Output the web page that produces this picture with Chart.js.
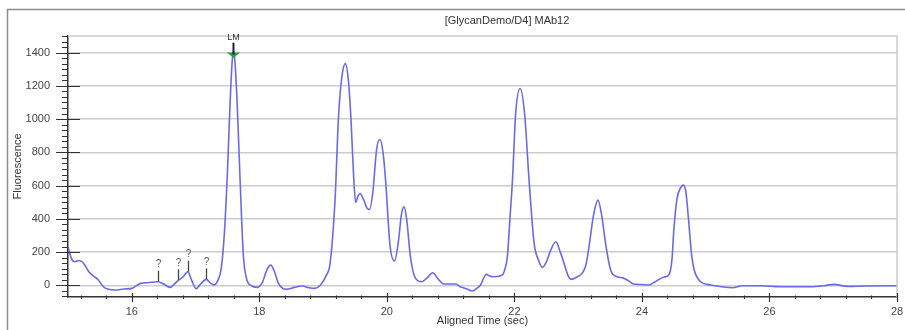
<!DOCTYPE html>
<html>
<head>
<meta charset="utf-8">
<script src="https://cdn.jsdelivr.net/npm/chart.js@4/dist/chart.umd.min.js"></script>
<style>
html,body{margin:0;padding:0;background:#fff;}
#wrap{width:905px;height:330px;position:relative;}
</style>
</head>
<body>
<div id="wrap"><canvas id="c" width="905" height="330"></canvas></div>
<script>
const chartTitle = "[GlycanDemo/D4] MAb12";
const xTitle = "Aligned Time (sec)";
const yTitle = "Fluorescence";
const xTickValues = [16, 18, 20, 22, 24, 26, 28];
const yTickValues = [0, 200, 400, 600, 800, 1000, 1200, 1400];

const times = [15.00,15.05,15.10,15.18,15.24,15.33,15.40,15.47,15.56,15.62,15.74,15.88,16.00,16.08,16.14,16.25,16.41,16.50,16.60,16.68,16.73,16.80,16.88,16.94,17.01,17.08,17.17,17.23,17.29,17.35,17.40,17.45,17.50,17.54,17.575,17.595,17.615,17.65,17.70,17.75,17.80,17.87,17.96,18.05,18.12,18.18,18.24,18.30,18.43,18.55,18.67,18.78,18.87,18.96,19.05,19.11,19.19,19.24,19.29,19.35,19.40,19.44,19.48,19.51,19.55,19.58,19.63,19.70,19.73,19.78,19.84,19.89,19.94,19.98,20.05,20.12,20.18,20.23,20.27,20.31,20.37,20.45,20.55,20.63,20.72,20.80,20.89,21.08,21.15,21.25,21.34,21.42,21.47,21.52,21.56,21.62,21.68,21.81,21.86,21.89,21.93,21.97,22.02,22.09,22.16,22.23,22.31,22.38,22.44,22.50,22.57,22.65,22.72,22.78,22.84,22.89,22.98,23.06,23.12,23.17,23.24,23.31,23.37,23.43,23.51,23.61,23.70,23.77,23.87,24.00,24.11,24.20,24.27,24.35,24.42,24.47,24.50,24.55,24.61,24.65,24.69,24.73,24.78,24.82,24.92,25.08,25.25,25.42,25.58,25.86,26.18,26.65,26.85,27.01,27.22,27.50,28.00];
const fluorescence = [232,165,142,150,135,80,55,35,-10,-22,-28,-22,-18,0,12,16,22,8,-12,12,30,50,82,30,-20,8,36,15,2,30,95,300,680,1080,1350,1410,1360,1120,620,180,40,0,-12,20,95,122,80,12,-24,-12,-4,-14,-18,2,60,132,532,1000,1240,1334,1220,980,650,500,540,553,520,460,457,560,820,877,800,633,240,146,260,430,472,400,172,42,22,45,76,40,8,8,-8,-20,-34,-15,2,45,66,55,52,62,110,172,400,633,1034,1184,1034,633,252,150,108,140,212,262,200,132,60,36,50,72,120,232,420,513,420,252,92,52,45,32,8,5,2,20,36,50,62,150,332,520,590,603,560,400,180,92,22,2,-8,-14,-2,-2,-8,-8,-2,6,-6,-4,-2];

const markerTimes = [16.41, 16.73, 16.88, 17.17];
const markerValues = [22, 30, 82, 36];
const markerLabels = ["?", "?", "?", "?"];
const lmTime = 17.595;
const lmValue = 1400;
const lmLabel = "LM";

const points = times.map((t, i) => ({x: t, y: fluorescence[i]}));

const decor = {
  id: 'decor',
  afterDraw(chart) {
    const {ctx, chartArea: a, scales: {x, y}} = chart;
    ctx.save();
    ctx.strokeStyle = '#8c8c8c'; ctx.lineWidth = 1.5;
    ctx.beginPath(); ctx.moveTo(7.5, 330); ctx.lineTo(7.5, 9.5); ctx.lineTo(905, 9.5); ctx.stroke();
    ctx.strokeStyle = '#cccccc'; ctx.lineWidth = 1.5;
    ctx.beginPath(); ctx.moveTo(a.left, a.top); ctx.lineTo(a.right, a.top); ctx.lineTo(a.right, a.bottom); ctx.stroke();
    ctx.strokeStyle = '#333'; ctx.lineWidth = 1.2;
    ctx.beginPath();
    yTickValues.forEach(v => { const p = Math.round(y.getPixelForValue(v)) + 0.5; ctx.moveTo(a.left - 12, p); ctx.lineTo(a.left + 12, p); });
    for (let k = -2; k <= 45; k++) {
      if (k % 6 === 0) continue;
      const v = k * 200 / 6;
      if (v < y.min || v > y.max) continue;
      const p = Math.round(y.getPixelForValue(v)) + 0.5;
      ctx.moveTo(a.left - 6, p); ctx.lineTo(a.left, p);
    }
    xTickValues.forEach(v => { const p = Math.round(x.getPixelForValue(v)) + 0.5; ctx.moveTo(p, a.bottom - 4); ctx.lineTo(p, a.bottom + 5); });
    for (let k = 0; k <= 32; k++) {
      const v = 15.2 + k * 0.4;
      if (Math.abs(v - Math.round(v)) < 0.01 && Math.round(v) % 2 === 0) continue;
      if (v > 28) break;
      const p = Math.round(x.getPixelForValue(v)) + 0.5;
      ctx.moveTo(p, a.bottom - 1.5); ctx.lineTo(p, a.bottom + 2);
    }
    ctx.stroke();
    ctx.fillStyle = '#333'; ctx.font = '11px "Liberation Sans", Arial, sans-serif';
    ctx.textAlign = 'center'; ctx.textBaseline = 'middle';
    ctx.fillText(chartTitle, 507, 21);
    ctx.strokeStyle = '#444'; ctx.lineWidth = 1.3; ctx.fillStyle = '#555';
    ctx.font = '10px "Liberation Sans", Arial, sans-serif';
    markerTimes.forEach((t, i) => {
      const px = Math.round(x.getPixelForValue(t)) + 0.5;
      const py = y.getPixelForValue(markerValues[i]);
      ctx.beginPath(); ctx.moveTo(px, py); ctx.lineTo(px, py - 11); ctx.stroke();
      ctx.fillText(markerLabels[i], px, py - 17);
    });
    const lx = x.getPixelForValue(lmTime);
    const ly = y.getPixelForValue(lmValue);
    ctx.fillStyle = '#2e9e3e';
    ctx.beginPath(); ctx.moveTo(lx - 6.5, ly); ctx.lineTo(lx + 6.5, ly); ctx.lineTo(lx, ly + 5.5); ctx.closePath(); ctx.fill();
    ctx.strokeStyle = '#1a1f4a'; ctx.lineWidth = 2;
    ctx.beginPath(); ctx.moveTo(lx, ly + 2); ctx.lineTo(lx, ly - 10); ctx.stroke();
    ctx.fillStyle = '#333'; ctx.font = '9px "Liberation Sans", Arial, sans-serif';
    ctx.fillText(lmLabel, lx, ly - 15);
    ctx.restore();
  }
};

const tickFont = {family: '"Liberation Sans", Arial, sans-serif', size: 11};

new Chart(document.getElementById('c'), {
  type: 'line',
  data: {
    datasets: [{
      data: points,
      borderColor: '#6a6ae8',
      borderWidth: 1.6,
      pointRadius: 0,
      fill: false,
      cubicInterpolationMode: 'monotone',
      tension: 0.4
    }]
  },
  options: {
    responsive: false,
    animation: false,
    events: [],
    layout: {padding: {left: 0, right: 8, top: 36, bottom: 0}},
    plugins: {legend: {display: false}, tooltip: {enabled: false}, title: {display: false}},
    scales: {
      x: {
        type: 'linear', min: 15, max: 28,
        afterBuildTicks: s => { s.ticks = xTickValues.map(v => ({value: v})); },
        afterFit: s => { s.height = 33; s.paddingLeft = 0; s.paddingRight = 0; },
        grid: {display: false, drawTicks: false},
        border: {display: true, color: '#333', width: 1.5},
        ticks: {font: tickFont, color: '#444', padding: 8, maxRotation: 0, autoSkip: false, callback: v => String(v)},
        title: {display: true, text: xTitle, font: tickFont, color: '#333', padding: {top: 0, bottom: 2}}
      },
      y: {
        type: 'linear', min: -70, max: 1500,
        afterBuildTicks: s => { s.ticks = yTickValues.map(v => ({value: v})); },
        afterFit: s => { s.width = 68; s.paddingTop = 0; s.paddingBottom = 0; },
        grid: {drawTicks: false, color: '#cccccc', lineWidth: 1.5},
        border: {display: true, color: '#333', width: 1.5},
        ticks: {font: tickFont, color: '#444', padding: 18, autoSkip: false, callback: v => String(v)},
        title: {display: true, text: yTitle, font: tickFont, color: '#333', padding: {top: 11, bottom: 0}}
      }
    }
  },
  plugins: [decor]
});
</script>
</body>
</html>
